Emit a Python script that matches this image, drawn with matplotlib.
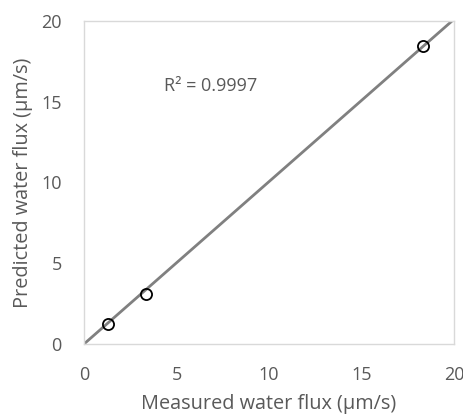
import numpy as np
import matplotlib
matplotlib.use("Agg")
import matplotlib.pyplot as plt

plt.rcParams['font.family'] = ['Open Sans', 'DejaVu Sans']

measured = np.array([1.28, 3.35, 18.3])
predicted = np.array([1.25, 3.1, 18.45])
r2_label = "R² = 0.9997"
ticks = [0, 5, 10, 15, 20]

# trendline forced through origin
slope = (measured * predicted).sum() / (measured ** 2).sum()
xs = np.array([0, 20])

fig = plt.figure(figsize=(4.64, 4.16), dpi=100)
ax = fig.add_axes([84 / 464, 1 - 344 / 416, 370 / 464, 323 / 416])

ax.plot(xs, slope * xs, color="#808080", lw=2.0, zorder=2)
ax.plot(measured, predicted, "o", mfc="none", mec="black", mew=1.3, ms=8, zorder=3)

ax.text(4.3, 16.0, r2_label, color="#595959", fontsize=13, va="center")

ax.set_xlim(0, 20)
ax.set_ylim(0, 20)
ax.set_xticks(ticks)
ax.set_yticks(ticks)
ax.tick_params(length=0, labelsize=13, labelcolor="#595959")
ax.tick_params(axis="x", pad=16)
ax.tick_params(axis="y", pad=16)
for s in ax.spines.values():
    s.set_color("#d9d9d9")
    s.set_linewidth(1.0)

ax.set_xlabel("Measured water flux (μm/s)", fontsize=14.3, color="#595959", labelpad=7)
ax.set_ylabel("Predicted water flux (μm/s)", fontsize=14.3, color="#595959", labelpad=6)

fig.savefig("out.png", dpi=100)
